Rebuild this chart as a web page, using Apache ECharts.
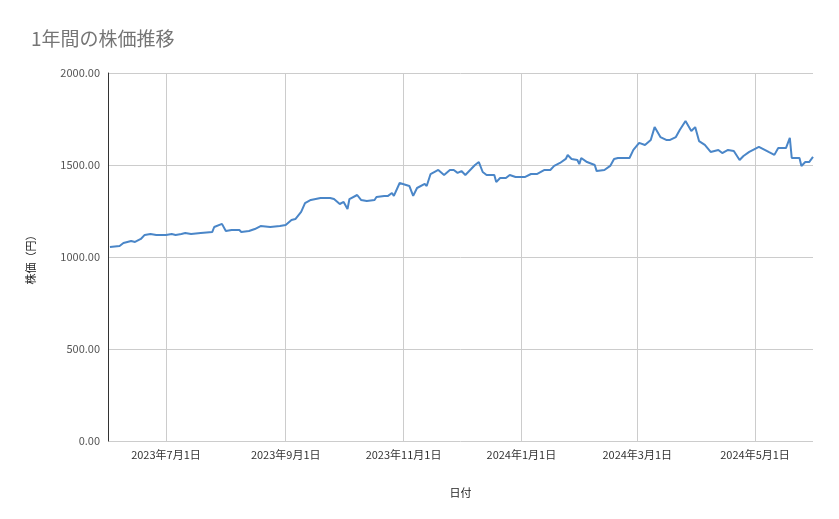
<!DOCTYPE html><html><head><meta charset="utf-8"><script src="https://cdn.jsdelivr.net/npm/echarts@6/dist/echarts.min.js"></script></head><body style="margin:0"><div id="c" style="width:839px;height:519px"></div><script>
const dates=["2023-06-02","2023-06-07","2023-06-09","2023-06-13","2023-06-15","2023-06-18","2023-06-20","2023-06-23","2023-06-26","2023-06-28","2023-07-01","2023-07-04","2023-07-06","2023-07-09","2023-07-11","2023-07-14","2023-07-19","2023-07-25","2023-07-26","2023-07-30","2023-08-01","2023-08-04","2023-08-08","2023-08-09","2023-08-13","2023-08-16","2023-08-19","2023-08-24","2023-08-29","2023-09-01","2023-09-04","2023-09-06","2023-09-09","2023-09-11","2023-09-14","2023-09-19","2023-09-24","2023-09-26","2023-09-29","2023-10-01","2023-10-03","2023-10-04","2023-10-08","2023-10-10","2023-10-13","2023-10-17","2023-10-18","2023-10-22","2023-10-24","2023-10-26","2023-10-27","2023-10-30","2023-11-04","2023-11-06","2023-11-08","2023-11-12","2023-11-13","2023-11-15","2023-11-19","2023-11-22","2023-11-25","2023-11-27","2023-11-29","2023-12-01","2023-12-03","2023-12-06","2023-12-08","2023-12-10","2023-12-12","2023-12-14","2023-12-18","2023-12-19","2023-12-21","2023-12-24","2023-12-26","2023-12-29","2024-01-03","2024-01-06","2024-01-09","2024-01-13","2024-01-16","2024-01-18","2024-01-21","2024-01-24","2024-01-25","2024-01-27","2024-01-30","2024-01-31","2024-02-01","2024-02-04","2024-02-08","2024-02-09","2024-02-13","2024-02-16","2024-02-18","2024-02-20","2024-02-26","2024-02-28","2024-03-02","2024-03-05","2024-03-08","2024-03-10","2024-03-13","2024-03-16","2024-03-18","2024-03-21","2024-03-23","2024-03-26","2024-03-29","2024-03-31","2024-04-02","2024-04-05","2024-04-08","2024-04-12","2024-04-14","2024-04-17","2024-04-20","2024-04-23","2024-04-25","2024-04-28","2024-05-03","2024-05-06","2024-05-08","2024-05-11","2024-05-13","2024-05-17","2024-05-19","2024-05-20","2024-05-24","2024-05-25","2024-05-27","2024-05-29","2024-05-31"];
const prices=[1054,1060,1076,1087,1082,1098,1120,1125,1120,1120,1120,1125,1120,1125,1130,1125,1130,1136,1163,1180,1141,1147,1147,1136,1141,1152,1168,1163,1168,1174,1201,1206,1245,1293,1310,1321,1321,1315,1288,1299,1261,1315,1337,1310,1304,1310,1326,1332,1332,1348,1332,1402,1386,1332,1375,1397,1386,1451,1473,1446,1473,1473,1457,1467,1446,1478,1500,1516,1462,1446,1446,1407,1429,1429,1446,1435,1435,1451,1451,1473,1473,1495,1511,1533,1554,1533,1527,1505,1538,1516,1500,1467,1473,1495,1533,1538,1538,1582,1620,1609,1636,1706,1652,1636,1636,1652,1690,1739,1685,1706,1630,1609,1571,1582,1565,1582,1576,1527,1549,1571,1598,1582,1571,1555,1592,1592,1647,1538,1538,1495,1516,1516,1544];
const xTicks=["2023-07-01","2023-09-01","2023-11-01","2024-01-01","2024-03-01","2024-05-01"];
const xLabels=["2023年7月1日","2023年9月1日","2023年11月1日","2024年1月1日","2024年3月1日","2024年5月1日"];
const ch=echarts.init(document.getElementById('c'));
const F='"Noto Sans CJK JP","Noto Sans",sans-serif';
ch.setOption({
 textStyle:{fontFamily:F},
 title:{text:'1年間の株価推移',left:26,top:24,textStyle:{fontSize:19,fontWeight:'normal',color:'#757575',fontFamily:F}},
 grid:{left:108,right:26,top:73,bottom:78},
 xAxis:{type:'time',min:'2023-06-01',max:'2024-05-31',
  name:'日付',nameLocation:'middle',nameGap:46,nameTextStyle:{fontSize:11,color:'#222'},
  axisLine:{show:false},axisTick:{show:false},axisLabel:{show:false},splitLine:{show:false}},
 yAxis:{type:'value',min:0,max:2000,interval:500,
  name:'株価（円）',nameLocation:'middle',nameGap:72,nameTextStyle:{fontSize:11,color:'#222'},
  axisLabel:{fontSize:11,color:'#555',formatter:v=>v.toFixed(2)},
  axisLine:{show:true,lineStyle:{color:'#333'}},splitLine:{lineStyle:{color:'#ccc'}}},
 series:[{type:'line',data:dates.map((d,i)=>[d,prices[i]]),showSymbol:false,lineStyle:{color:'#4a86c8',width:2},itemStyle:{color:'#4a86c8'},z:3,
  markLine:{silent:true,symbol:'none',animation:false,z:1,lineStyle:{color:'#ccc',type:'solid',width:1},
   label:{position:'start',distance:8,fontSize:11,color:'#333',fontFamily:F,formatter:p=>p.name},
   data:xTicks.map((d,i)=>({xAxis:d,name:xLabels[i]}))}}]
});
</script></body></html>
